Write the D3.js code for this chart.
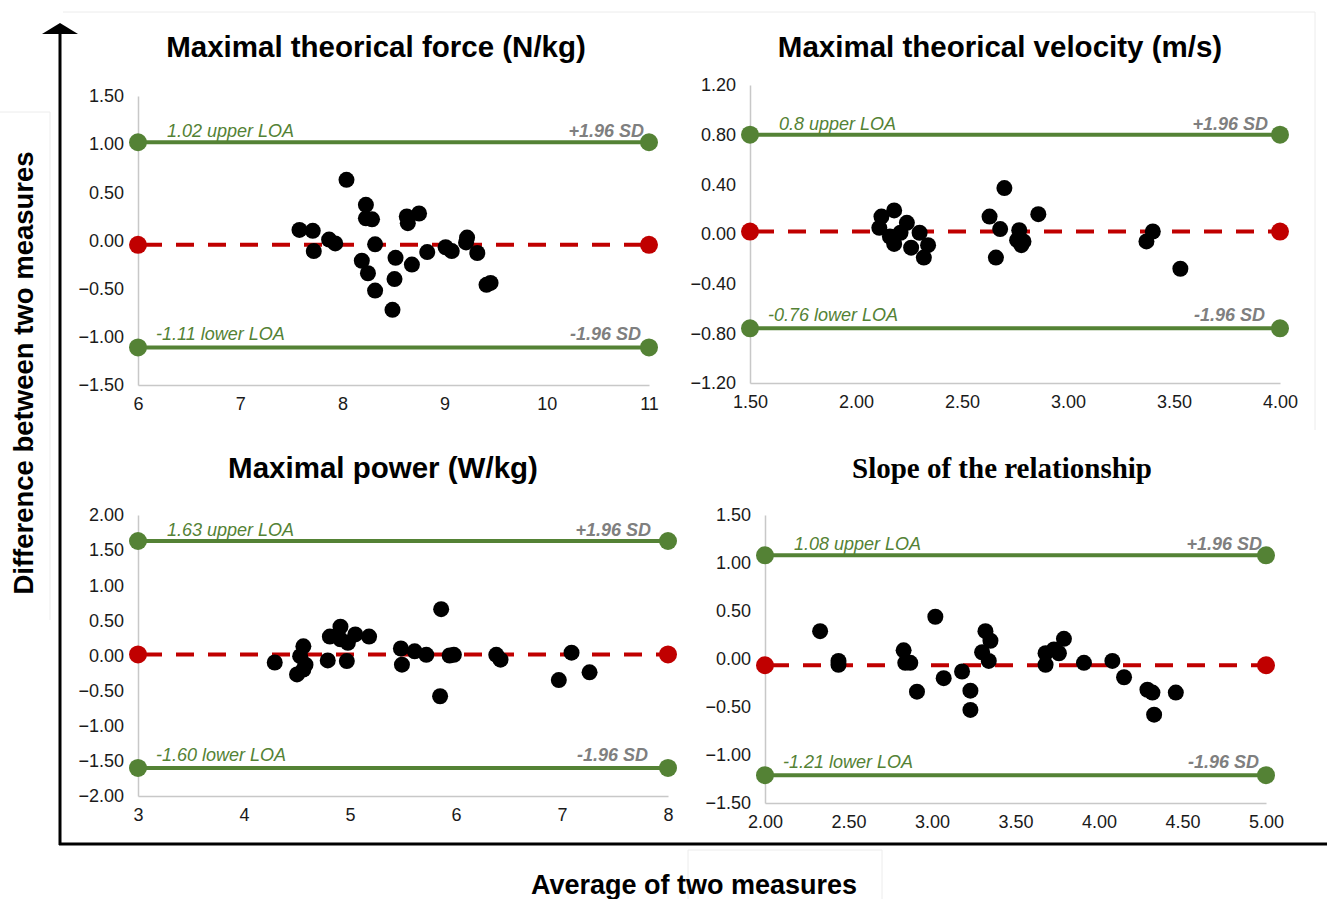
<!DOCTYPE html>
<html>
<head>
<meta charset="utf-8">
<script src="https://cdn.jsdelivr.net/npm/d3@7"></script>
<style>
  body { margin: 0; background: #fff; }
  text { font-family: "Liberation Sans", Arial, Helvetica, sans-serif; }
</style>
</head>
<body>
<div id="chart"></div>
<script>
// values

const titles = [
  "Maximal theorical force (N/kg)",
  "Maximal theorical velocity (m/s)",
  "Maximal power (W/kg)",
  "Slope of the relationship"
];

const forceAvg  = [8.04, 8.23, 8.23, 8.29, 7.58, 7.71, 7.87, 7.93, 7.72, 8.32, 8.19, 8.25, 8.32, 8.49,
                   8.52, 8.51, 8.63, 8.64, 8.75, 8.68, 8.83, 9.01, 9.07, 9.22, 9.21, 9.32, 9.41, 9.45];
const forceDiff = [0.63, 0.37, 0.23, 0.22, 0.11, 0.10, 0.01, -0.03, -0.11, -0.04, -0.21, -0.34, -0.52, -0.72,
                   -0.18, -0.40, 0.25, 0.18, 0.28, -0.25, -0.12, -0.07, -0.11, 0.03, -0.02, -0.13, -0.46, -0.44];

const velAvg  = [2.70, 2.18, 2.12, 2.11, 2.24, 2.16, 2.18, 2.26, 2.30, 2.34, 2.32, 2.21,
                 2.63, 2.68, 2.66, 2.86, 2.77, 2.76, 2.79, 2.78, 3.40, 3.37, 3.53];
const velDiff = [0.37, 0.19, 0.14, 0.05, 0.09, -0.02, -0.08, -0.11, 0.01, -0.09, -0.19, 0.01,
                 0.14, 0.04, -0.19, 0.16, 0.03, -0.05, -0.06, -0.09, 0.02, -0.06, -0.28];

const powerAvg  = [4.29, 4.56, 4.53, 4.58, 4.50, 4.56, 4.79, 4.81, 4.91, 5.05, 4.98, 4.91, 4.97, 5.18,
                   5.48, 5.49, 5.61, 5.72, 5.86, 5.94, 5.98, 5.85, 6.38, 6.42, 7.09, 6.97, 7.26];
const powerDiff = [-0.10, 0.13, -0.01, -0.13, -0.27, -0.20, -0.07, 0.27, 0.41, 0.30, 0.18, 0.23, -0.08, 0.27,
                   0.10, -0.13, 0.06, 0.01, 0.66, 0.00, 0.01, -0.58, 0.01, -0.06, 0.04, -0.35, -0.24];

const slopeAvg  = [2.33, 2.44, 2.44, 2.83, 2.84, 2.87, 2.91, 3.02, 3.07, 3.18, 3.23, 3.23, 3.32, 3.35,
                   3.30, 3.34, 3.68, 3.68, 3.73, 3.76, 3.79, 3.91, 4.08, 4.15, 4.29, 4.32, 4.33, 4.46];
const slopeDiff = [0.29, -0.02, -0.06, 0.09, -0.04, -0.04, -0.34, 0.44, -0.20, -0.13, -0.33, -0.53, 0.29, 0.19,
                   0.07, -0.02, 0.06, -0.06, 0.10, 0.06, 0.21, -0.04, -0.02, -0.19, -0.32, -0.35, -0.58, -0.35];

const loaUpper = [1.02, 0.80, 1.63, 1.08];
const loaMean  = [-0.045, 0.02, 0.015, -0.065];
const loaLower = [-1.11, -0.76, -1.60, -1.21];
const upperLabels = ["1.02 upper LOA", "0.8 upper LOA", "1.63 upper LOA", "1.08 upper LOA"];
const lowerLabels = ["-1.11 lower LOA", "-0.76 lower LOA", "-1.60 lower LOA", "-1.21 lower LOA"];

const xTicks = [[6, 7, 8, 9, 10, 11], [1.5, 2, 2.5, 3, 3.5, 4], [3, 4, 5, 6, 7, 8], [2, 2.5, 3, 3.5, 4, 4.5, 5]];
const yTicks = [[-1.5, -1, -0.5, 0, 0.5, 1, 1.5], [-1.2, -0.8, -0.4, 0, 0.4, 0.8, 1.2],
                [-2, -1.5, -1, -0.5, 0, 0.5, 1, 1.5, 2], [-1.5, -1, -0.5, 0, 0.5, 1, 1.5]];
const xFormats = ["d", ".2f", "d", ".2f"];

const allAvg  = [forceAvg, velAvg, powerAvg, slopeAvg];
const allDiff = [forceDiff, velDiff, powerDiff, slopeDiff];

// layout of the four plots (pixels)
const boxes = [
  {x0: 138, x1: 649,  y0: 96,  y1: 385, titleX: 376,  titleY: 57,  serif: false, sdPad: 5},
  {x0: 750, x1: 1280, y0: 85,  y1: 383, titleX: 1000, titleY: 57,  serif: false, sdPad: 12},
  {x0: 138, x1: 668,  y0: 515, y1: 796, titleX: 383,  titleY: 478, serif: false, sdPad: 17},
  {x0: 765, x1: 1266, y0: 515, y1: 803, titleX: 1002, titleY: 478, serif: true,  sdPad: 4}
];

const green = "#548235", red = "#c00000", grey = "#7f7f7f";

const svg = d3.select("#chart").append("svg")
  .attr("width", 1327).attr("height", 899);

// faint frame lines left over in the picture
const faint = svg.append("g").attr("stroke", "#ececec").attr("fill", "none");
faint.append("path").attr("d", "M63,12H1315V430");
faint.append("path").attr("d", "M0,112H50V620");
faint.append("path").attr("d", "M688,899V850H882V899");

// big arrow axes
svg.append("line").attr("x1", 60).attr("x2", 60).attr("y1", 32).attr("y2", 845)
  .attr("stroke", "#000").attr("stroke-width", 3);
svg.append("path").attr("d", "M42,34L60,23L78,34Z").attr("fill", "#000");
svg.append("line").attr("x1", 59).attr("x2", 1327).attr("y1", 844).attr("y2", 844)
  .attr("stroke", "#000").attr("stroke-width", 3);

svg.append("text")
  .attr("transform", "translate(33,373) rotate(-90)")
  .attr("text-anchor", "middle")
  .attr("font-weight", "bold").attr("font-size", 27.5)
  .text("Difference between two measures");

svg.append("text")
  .attr("x", 694).attr("y", 894)
  .attr("text-anchor", "middle")
  .attr("font-weight", "bold").attr("font-size", 27)
  .text("Average of two measures");

boxes.forEach((b, i) => {
  const xs = xTicks[i], ys = yTicks[i];
  const x = d3.scaleLinear().domain([xs[0], xs[xs.length - 1]]).range([b.x0, b.x1]);
  const y = d3.scaleLinear().domain([ys[0], ys[ys.length - 1]]).range([b.y1, b.y0]);
  const g = svg.append("g");

  g.append("text")
    .attr("x", b.titleX).attr("y", b.titleY)
    .attr("text-anchor", "middle")
    .attr("font-weight", "bold")
    .attr("font-size", b.serif ? 29 : 29.5)
    .style("font-family", b.serif ? "'Liberation Serif', 'Times New Roman', serif" : null)
    .text(titles[i]);

  const ax = g.append("g").attr("transform", `translate(0,${b.y1})`)
    .call(d3.axisBottom(x).tickValues(xs).tickFormat(d3.format(xFormats[i]))
      .tickSize(0).tickPadding(12));
  const ay = g.append("g").attr("transform", `translate(${b.x0},0)`)
    .call(d3.axisLeft(y).tickValues(ys).tickFormat(d3.format(".2f"))
      .tickSize(0).tickPadding(14));
  [ax, ay].forEach(a => {
    a.select(".domain").attr("stroke", "#c8c8c8").attr("stroke-width", 1.5);
    a.selectAll("text").attr("font-size", 18).attr("fill", "#1a1a1a")
      .style("font-family", "'Liberation Sans', Arial, sans-serif");
  });

  // limits of agreement
  [loaUpper[i], loaLower[i]].forEach(v => {
    g.append("line").attr("x1", x.range()[0]).attr("x2", x.range()[1])
      .attr("y1", y(v)).attr("y2", y(v))
      .attr("stroke", green).attr("stroke-width", 4);
    g.selectAll(null).data(x.range()).enter().append("circle")
      .attr("cx", d => d).attr("cy", y(v)).attr("r", 9).attr("fill", green);
  });

  g.append("line").attr("x1", x.range()[0]).attr("x2", x.range()[1])
    .attr("y1", y(loaMean[i])).attr("y2", y(loaMean[i]))
    .attr("stroke", red).attr("stroke-width", 4)
    .attr("stroke-dasharray", "18,14").attr("stroke-dashoffset", -6);
  g.selectAll(null).data(x.range()).enter().append("circle")
    .attr("cx", d => d).attr("cy", y(loaMean[i])).attr("r", 9).attr("fill", red);

  // labels on the limit lines
  g.append("text").attr("x", b.x0 + 29).attr("y", y(loaUpper[i]) - 5)
    .attr("font-size", 18).attr("font-style", "italic").attr("fill", green)
    .text(upperLabels[i]);
  g.append("text").attr("x", b.x0 + 18).attr("y", y(loaLower[i]) - 7)
    .attr("font-size", 18).attr("font-style", "italic").attr("fill", green)
    .text(lowerLabels[i]);
  g.append("text").attr("x", b.x1 - b.sdPad).attr("y", y(loaUpper[i]) - 5)
    .attr("text-anchor", "end")
    .attr("font-size", 18).attr("font-style", "italic").attr("font-weight", "bold").attr("fill", grey)
    .text("+1.96 SD");
  g.append("text").attr("x", b.x1 - b.sdPad - 3).attr("y", y(loaLower[i]) - 7)
    .attr("text-anchor", "end")
    .attr("font-size", 18).attr("font-style", "italic").attr("font-weight", "bold").attr("fill", grey)
    .text("-1.96 SD");

  // the points
  g.selectAll("circle.pt").data(d3.zip(allAvg[i], allDiff[i])).enter().append("circle")
    .attr("class", "pt")
    .attr("cx", d => x(d[0])).attr("cy", d => y(d[1]))
    .attr("r", 8).attr("fill", "#000");
});
</script>
</body>
</html>
